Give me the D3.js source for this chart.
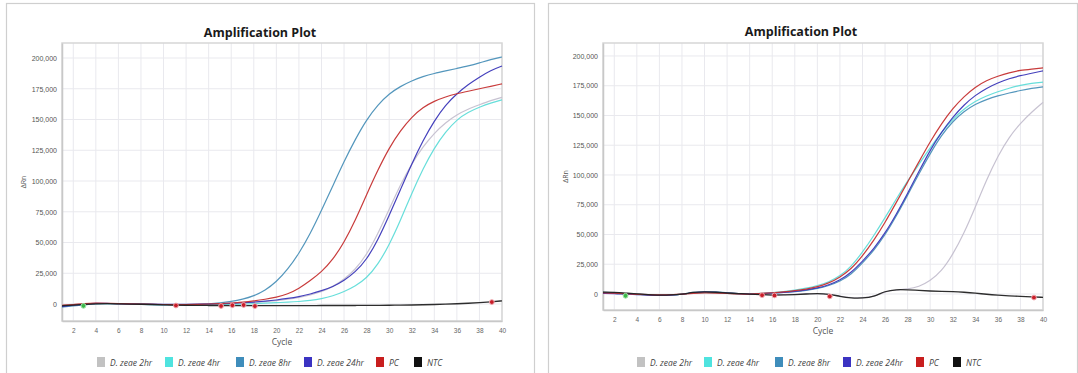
<!DOCTYPE html>
<html><head><meta charset="utf-8">
<script src="https://cdn.jsdelivr.net/npm/d3@7"></script>
<style>body{margin:0;background:#fff;} svg{display:block;font-family:"Open Sans",sans-serif;}</style>
</head><body><svg id="chart" width="1078" height="373"></svg>
<script>
// ---------- DATA ----------
const cycles = [1,2,3,4,5,6,7,8,9,10,11,12,13,14,15,16,17,18,19,20,21,22,23,24,25,26,27,28,29,30,31,32,33,34,35,36,37,38,39,40];
const seriesNames = ["D. zeae 2hr","D. zeae 4hr","D. zeae 8hr","D. zeae 24hr","PC","NTC"];
const xTickValues = [2,4,6,8,10,12,14,16,18,20,22,24,26,28,30,32,34,36,38,40];
const yTickValues = [0,25000,50000,75000,100000,125000,150000,175000,200000];
const chartTitle = "Amplification Plot";
const xTitle = "Cycle";
const yTitle = "ΔRn";

// Left panel
const left2hr  = [-800,-300,200,500,300,0,-200,-300,-400,-500,-500,-400,-300,-100,100,400,800,1300,2000,2800,3800,5200,7200,10000,14000,20000,28000,40000,57000,77000,97000,114000,128000,139000,147500,154000,158500,162000,165500,168000];
const left4hr  = [-1500,-900,-200,300,400,200,0,-200,-500,-700,-900,-1000,-900,-800,-600,-400,-100,300,700,1100,1500,2000,2800,4200,6500,10000,14500,21000,32000,48000,68000,90000,110000,127000,140000,150000,156000,160000,163500,166000];
const left8hr  = [-2500,-1500,-600,200,300,100,0,-300,-500,-600,-800,-700,-500,0,800,2000,3800,6500,11000,18000,28000,41000,57000,76000,96000,116000,134000,150000,162000,171000,177000,181500,185000,187500,189500,191500,193500,196000,198800,200800];
const left24hr = [-2000,-1000,0,600,500,300,100,0,-100,-200,-300,-200,-100,0,200,500,1000,1600,2300,3200,4500,6000,8000,10800,14000,19000,26000,36000,52000,72000,93000,114000,133000,149000,162000,171000,178500,184500,190000,193500];
const leftPC   = [-1000,-500,500,800,600,300,100,0,-200,-400,-600,-500,-300,0,300,800,1500,2500,3800,5500,8000,12500,19000,26000,36000,50000,68000,89000,109000,127000,141000,152000,160000,165000,168500,171000,173000,175000,177000,179000];
const leftNTC  = [-1500,-800,-200,200,300,200,0,-200,-400,-600,-900,-1000,-1100,-1200,-1200,-1300,-1300,-1300,-1300,-1300,-1300,-1300,-1300,-1200,-1200,-1200,-1200,-1100,-1100,-1000,-900,-800,-600,-400,-100,200,600,1100,1800,2600];
const leftMarkerCycles = [2.9, 11.1, 15.1, 16.1, 17.1, 18.1, 39.1];
const leftMarkerValues = [-1500, -1200, -1600, -1000, -800, -1700, 1600];
const leftMarkerKinds  = ["start","ct","ct","ct","ct","ct","ct"];

// Right panel
const right2hr  = [1200,1000,500,0,-500,-900,-700,-200,1000,1500,1200,600,200,0,-300,-600,-500,-300,0,400,0,-1800,-3200,-3200,-2300,2000,3500,4000,6000,11000,19000,33000,51000,73000,96000,116000,132000,143500,153000,161000];
const right4hr  = [800,600,0,-400,-800,-1000,-800,-200,800,1200,900,400,100,0,500,1200,2000,3200,4800,7000,10000,15000,23000,35000,49000,64000,80000,95000,109000,123000,136000,147000,155500,162000,166500,170000,173000,175500,177000,178000];
const right8hr  = [1500,1200,400,-200,-700,-1100,-900,-300,1500,2000,1800,1000,300,-200,200,600,1200,2000,3000,4500,7000,10500,16500,26000,36500,49500,65500,83000,101000,118000,133500,145000,153500,159500,163500,166500,169000,171000,172800,174000];
const right24hr = [500,400,-200,-500,-900,-1200,-1000,-400,1200,1800,1500,800,200,-200,300,800,1400,2200,3300,5000,7500,11500,18000,27500,38000,51000,67000,84500,103000,121000,136000,148500,159000,167000,173000,177500,181000,183500,185500,187500];
const rightPC   = [1000,800,200,-300,-600,-900,-700,-200,600,1000,800,400,0,-300,500,1000,1800,2800,4000,6000,9000,14000,21000,32000,45000,60000,77000,94000,111000,128000,143000,156000,166000,174000,179500,183000,186000,188000,189000,190000];
const rightNTC  = [1500,1500,800,0,-500,-1000,-800,-300,1500,2000,1500,800,300,0,-500,-1000,-800,-500,0,500,0,-2000,-3500,-3500,-2500,2500,3800,3500,3000,2500,2200,2000,1500,800,-300,-1000,-1500,-2000,-2500,-2800];
const rightMarkerCycles = [3.0, 15.1, 16.2, 21.1, 39.2];
const rightMarkerValues = [-1500, -1000, -1200, -2000, -3000];
const rightMarkerKinds  = ["start","ct","ct","ct","ct"];

// ---------- STYLE ----------
const lineColors   = ["#c4bfcf","#5fdcd8","#4a90b8","#3a36b8","#c53030","#222222"];
const swatchColors = ["#c2c2c2","#4fe3df","#3f8dbb","#3b33c2","#c81e1e","#111111"];
const drawOrder = [0,1,2,3,4,5];

const panels = [
  { frame:[6,3,528,380], x0:62, x1:502, y0:43, y1:321, yDom:[-13800,212200],
    titleX:260, titleY:37, xLabY:345, yLabX:26, legendY:357,
    legendX:[97,165,236,304,376,414],
    series:[left2hr,left4hr,left8hr,left24hr,leftPC,leftNTC],
    mC:leftMarkerCycles, mV:leftMarkerValues, mK:leftMarkerKinds },
  { frame:[548,3,529,380], x0:603, x1:1043, y0:43, y1:310, yDom:[-13450,210900],
    titleX:801, titleY:36, xLabY:334, yLabX:568, legendY:357,
    legendX:[637,704,775,843,916,953],
    series:[right2hr,right4hr,right8hr,right24hr,rightPC,rightNTC],
    mC:rightMarkerCycles, mV:rightMarkerValues, mK:rightMarkerKinds }
];

const svg = d3.select("#chart");
const fmt = d3.format(",");

panels.forEach(p => {
  svg.append("rect").attr("x",p.frame[0]+0.5).attr("y",p.frame[1]+0.5)
    .attr("width",p.frame[2]).attr("height",p.frame[3])
    .attr("fill","#fff").attr("stroke","#cfcfcf").attr("stroke-width",1.2);

  const x = d3.scaleLinear().domain([1,40]).range([p.x0,p.x1]);
  const y = d3.scaleLinear().domain(p.yDom).range([p.y1,p.y0]);

  const g = svg.append("g");
  g.selectAll(".vg").data(xTickValues).join("line")
    .attr("x1",d=>x(d)).attr("x2",d=>x(d)).attr("y1",p.y0).attr("y2",p.y1)
    .attr("stroke","#e9e9ee").attr("stroke-width",1);
  g.selectAll(".hg").data(yTickValues).join("line")
    .attr("x1",p.x0).attr("x2",p.x1).attr("y1",d=>y(d)).attr("y2",d=>y(d))
    .attr("stroke","#e9e9ee").attr("stroke-width",1);

  svg.append("rect").attr("x",p.x0).attr("y",p.y0).attr("width",p.x1-p.x0).attr("height",p.y1-p.y0)
    .attr("fill","none").attr("stroke","#d6d6d6").attr("stroke-width",1.5);

  const xa = svg.append("g").attr("transform",`translate(0,${p.y1})`)
    .call(d3.axisBottom(x).tickValues(xTickValues).tickSize(0).tickPadding(7));
  xa.select(".domain").attr("stroke","#c8c8c8").attr("stroke-width",1.5);
  xa.selectAll("text").attr("font-size","6.5px").attr("fill","#666");

  const ya = svg.append("g").attr("transform",`translate(${p.x0},0)`)
    .call(d3.axisLeft(y).tickValues(yTickValues).tickFormat(fmt).tickSize(0).tickPadding(5));
  ya.select(".domain").attr("stroke","#c8c8c8").attr("stroke-width",1.5);
  ya.selectAll("text").attr("font-size","7px").attr("fill","#555");

  svg.append("text").attr("x",p.titleX).attr("y",p.titleY).attr("text-anchor","middle")
    .attr("font-size","12.5px").attr("font-weight","bold").attr("fill","#1a1a1a").text(chartTitle);
  svg.append("text").attr("x",(p.x0+p.x1)/2).attr("y",p.xLabY).attr("text-anchor","middle")
    .attr("font-size","8.5px").attr("fill","#555").text(xTitle);
  svg.append("text").attr("transform",`translate(${p.yLabX},${(p.y0+p.y1)/2}) rotate(-90)`)
    .attr("text-anchor","middle").attr("font-size","7px").attr("fill","#555").text(yTitle);

  const line = d3.line().x((d,i)=>x(cycles[i])).y(d=>y(d)).curve(d3.curveBasis);
  const lg = svg.append("g");
  drawOrder.forEach(si => {
    lg.append("path").datum(p.series[si]).attr("d",line)
      .attr("fill","none").attr("stroke",lineColors[si])
      .attr("stroke-width", si===5 ? 1.3 : 1.2).attr("stroke-opacity",0.95);
  });

  svg.append("g").selectAll("circle").data(p.mC).join("circle")
    .attr("cx",d=>x(d)).attr("cy",(d,i)=>y(p.mV[i])).attr("r",2.4)
    .attr("fill",(d,i)=>p.mK[i]==="start" ? "#3cb84a" : "#c81e2a")
    .attr("stroke",(d,i)=>p.mK[i]==="start" ? "#9fe0a6" : "#f0a8ae").attr("stroke-width",1);

  const leg = svg.append("g");
  seriesNames.forEach((n,i) => {
    leg.append("rect").attr("x",p.legendX[i]).attr("y",p.legendY).attr("width",8).attr("height",10)
      .attr("fill",swatchColors[i]);
    leg.append("text").attr("x",p.legendX[i]+13).attr("y",p.legendY+8.5)
      .attr("font-size","8.5px").attr("font-style","italic").attr("fill","#444").text(n);
  });
});
</script></body></html>
